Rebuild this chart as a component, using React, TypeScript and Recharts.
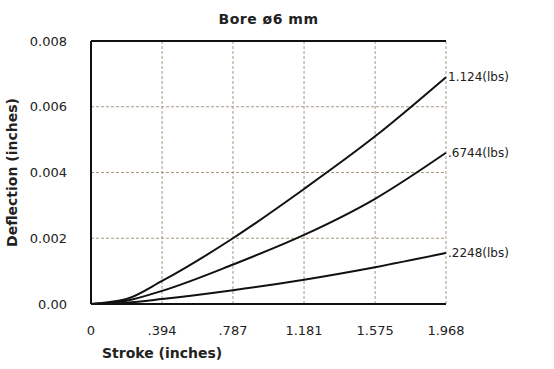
import { CartesianGrid, LabelList, Line, LineChart, ReferenceLine, XAxis, YAxis } from "recharts";

const stroke = [0, 0.197, 0.394, 0.787, 1.181, 1.575, 1.968];
const load1124 = [0, 0.00015, 0.0007, 0.002, 0.0035, 0.0051, 0.0069];
const load6744 = [0, 0.0001, 0.0004, 0.0012, 0.0021, 0.0032, 0.0046];
const load2248 = [0, 0.00004, 0.00015, 0.00042, 0.00074, 0.00112, 0.00155];

const xTicks = [0, 0.394, 0.787, 1.181, 1.575, 1.968];
const xTickLabels = ["0", ".394", ".787", "1.181", "1.575", "1.968"];
const yTicks = [0, 0.002, 0.004, 0.006, 0.008];
const yTickLabels = ["0.00", "0.002", "0.004", "0.006", "0.008"];

const seriesLabels = { a: "1.124(lbs)", b: ".6744(lbs)", c: ".2248(lbs)" };

const data = stroke.map((s, i) => ({
  s,
  a: load1124[i],
  b: load6744[i],
  c: load2248[i],
}));

const font = "'DejaVu Sans', sans-serif";
const last = stroke.length - 1;

function endLabel(text: string) {
  return (props: any) => {
    if (props.index !== last) return null;
    return (
      <text x={props.x + 2} y={props.y} dy={4} fontSize={12} fontFamily={font} fill="#222">
        {text}
      </text>
    );
  };
}

export default function App() {
  return (
    <div style={{ position: "absolute", left: 0, top: 0, width: 554, height: 369, background: "#fff" }}>
      <div
        style={{
          position: "absolute",
          left: 91,
          width: 355,
          top: 11,
          textAlign: "center",
          fontFamily: font,
          fontWeight: 700,
          fontSize: 14,
          letterSpacing: 0.5,
          color: "#222",
        }}
      >
        Bore ø6 mm
      </div>
      <LineChart width={554} height={369} data={data} margin={{ top: 41, right: 108, left: 0, bottom: 0 }}>
        <CartesianGrid stroke="#a89880" strokeDasharray="3 2" />
        <XAxis
          dataKey="s"
          type="number"
          domain={[0, 1.968]}
          ticks={xTicks}
          tickFormatter={(v) => xTickLabels[xTicks.indexOf(v)] ?? String(v)}
          tickLine={false}
          axisLine={{ stroke: "#111", strokeWidth: 2 }}
          height={65}
          tickMargin={16}
          tick={{ fontSize: 13, fill: "#222", fontFamily: font }}
          label={{
            value: "Stroke (inches)",
            position: "insideBottomLeft",
            offset: 11,
            fontSize: 14,
            fontWeight: 700,
            fill: "#222",
            fontFamily: font,
          }}
        />
        <YAxis
          type="number"
          domain={[0, 0.008]}
          ticks={yTicks}
          tickFormatter={(v) => yTickLabels[yTicks.indexOf(v)] ?? String(v)}
          tickLine={false}
          axisLine={{ stroke: "#111", strokeWidth: 2 }}
          width={91}
          tickMargin={18}
          tick={{ fontSize: 13, fill: "#222", fontFamily: font }}
          label={{
            value: "Deflection (inches)",
            angle: -90,
            position: "insideLeft",
            offset: 12,
            fontSize: 14,
            fontWeight: 700,
            fill: "#222",
            fontFamily: font,
            style: { textAnchor: "middle" },
          }}
        />
        <ReferenceLine y={0.008} stroke="#111" strokeWidth={2} />
        <Line dataKey="a" type="monotone" stroke="#111" strokeWidth={2} dot={false} isAnimationActive={false}>
          <LabelList dataKey="a" content={endLabel(seriesLabels.a)} />
        </Line>
        <Line dataKey="b" type="monotone" stroke="#111" strokeWidth={2} dot={false} isAnimationActive={false}>
          <LabelList dataKey="b" content={endLabel(seriesLabels.b)} />
        </Line>
        <Line dataKey="c" type="monotone" stroke="#111" strokeWidth={2} dot={false} isAnimationActive={false}>
          <LabelList dataKey="c" content={endLabel(seriesLabels.c)} />
        </Line>
      </LineChart>
    </div>
  );
}
